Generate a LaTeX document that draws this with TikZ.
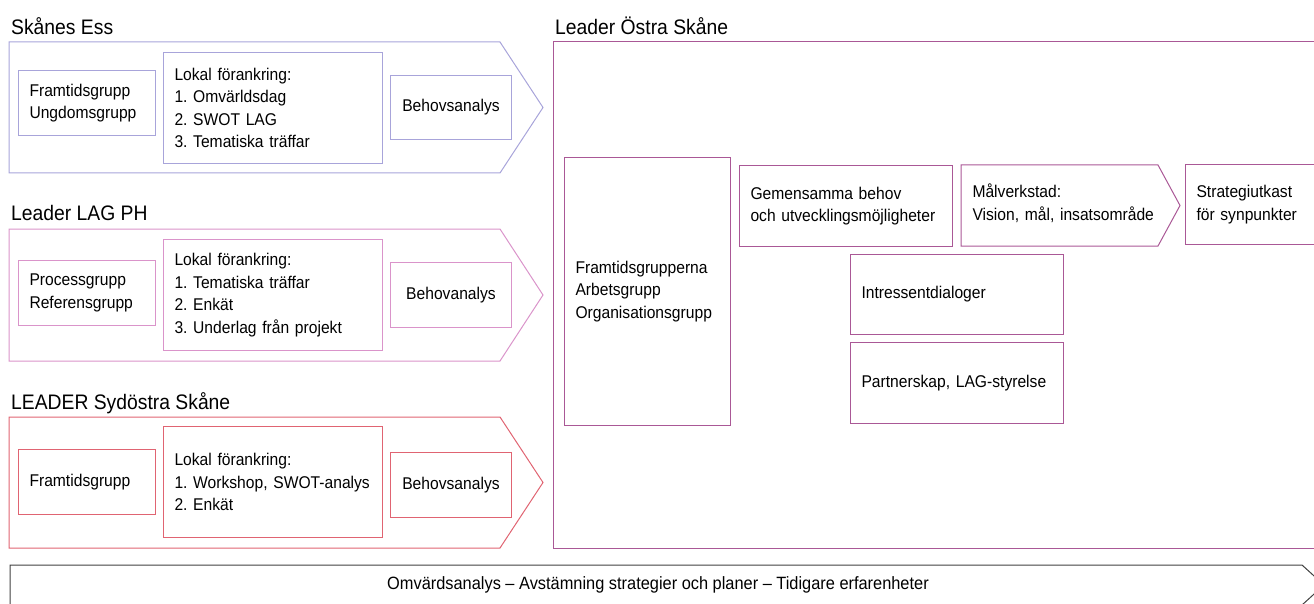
\documentclass[tikz,border=0pt]{standalone}
\usepackage{fontspec}
\setmainfont{Liberation Sans}[FakeStretch=0.92]
\frenchspacing
\definecolor{essblue}{RGB}{168,164,218}
\definecolor{phpink}{RGB}{218,148,202}
\definecolor{sydred}{RGB}{224,100,114}
\definecolor{ostrapurple}{RGB}{170,88,150}
\definecolor{bandgrey}{RGB}{64,64,64}
\newcommand{\bodyfont}{\fontsize{17}{22.5}\selectfont}
\newcommand{\bandfont}{\fontsize{17.8}{22}\selectfont}
\newcommand{\titlefont}{\fontsize{21}{25}\selectfont}
\tikzstyle{infobox}=[draw, line width=1pt, inner xsep=11pt, inner ysep=0pt, align=left, anchor=north west, font=\bodyfont]
\tikzstyle{centerbox}=[infobox, align=center, inner xsep=0pt]
\tikzstyle{rowtitle}=[anchor=base west, inner sep=0pt, font=\titlefont]
\tikzstyle{chevron}=[line width=1pt, line join=miter]
\def\drawchevron[#1](#2,#3)(#4,#5)(#6)% Syntax: [draw options] (left,top) (straight end,bottom) (tip x)
    { \draw[chevron,#1] (#2,#3) -- (#4,#3) -- (#6,{(#3+#5)/2}) -- (#4,#5) -- (#2,#5) -- cycle; }
\newcommand{\infonode}[7][]{% [options] name, x, y, width, height, text
\pgfmathsetmacro{\tw}{#5-22} % text width inside the box
\node[infobox,#1,text width=\tw pt,minimum height=#6pt] (#2) at (#3,#4) {#7};
}

\begin{document}
\begin{tikzpicture}[x=1pt,y=-1pt]
  \useasboundingbox (0,0) rectangle (1314,604);
  \clip (0,0) rectangle (1314,604);
  % Skånes Ess
  \node[rowtitle] (esstitle) at (11,35) {Skånes Ess};
  \drawchevron[essblue](9,42)(500,173)(543)
  \infonode[draw=essblue]{essgroups}{18}{70}{137}{65}{Framtidsgrupp\\Ungdomsgrupp}
  \infonode[draw=essblue]{essanchor}{163}{52}{219}{111}{Lokal förankring:\\1. Omvärldsdag\\2. SWOT LAG\\3. Tematiska träffar}
  \node[centerbox, draw=essblue, minimum width=121pt, minimum height=64pt] (essneeds) at (390,75) {Behovsanalys};
  % Leader LAG PH
  \node[rowtitle] (phtitle) at (11,221) {Leader LAG PH};
  \drawchevron[phpink](9,229)(500,361)(543)
  \infonode[draw=phpink]{phgroups}{18}{260}{137}{65}{Processgrupp\\Referensgrupp}
  \infonode[draw=phpink]{phanchor}{163}{239}{219}{111}{Lokal förankring:\\1. Tematiska träffar\\2. Enkät\\3. Underlag från projekt}
  \node[centerbox, draw=phpink, minimum width=121pt, minimum height=65pt] (phneeds) at (390,262) {Behovanalys};
  % LEADER Sydöstra Skåne
  \node[rowtitle] (sydtitle) at (11,409) {LEADER Sydöstra Skåne};
  \drawchevron[sydred](9,417)(500,548)(543)
  \infonode[draw=sydred]{sydgroups}{18}{449}{137}{65}{Framtidsgrupp}
  \infonode[draw=sydred]{sydanchor}{163}{426}{219}{111}{Lokal förankring:\\1. Workshop, SWOT-analys\\2. Enkät}
  \node[centerbox, draw=sydred, minimum width=121pt, minimum height=65pt] (sydneeds) at (390,452) {Behovsanalys};
  % Leader Östra Skåne
  \node[rowtitle] (ostratitle) at (555,35) {Leader Östra Skåne};
  \draw[chevron, ostrapurple] (553,42) rectangle (1330,548);
  \infonode[draw=ostrapurple]{ostragroups}{564}{157}{166}{268}{Framtidsgrupperna\\Arbetsgrupp\\Organisationsgrupp}
  \infonode[draw=ostrapurple]{ostraneeds}{739}{165}{213}{81}{Gemensamma behov\\och utvecklingsmöjligheter}
  \drawchevron[ostrapurple](961,165)(1158,246)(1180)
  \node[infobox, draw=none, anchor=west, text width=190pt] (ostraworkshop) at (961,203) {Målverkstad:\\Vision, mål, insatsområde};
  \infonode[draw=ostrapurple]{ostradraft}{1185}{164}{160}{80}{Strategiutkast\\för synpunkter}
  \infonode[draw=ostrapurple]{ostradialog}{850}{254}{213}{80}{Intressentdialoger}
  \infonode[draw=ostrapurple]{ostrapartners}{850}{342}{213}{81}{Partnerskap, LAG-styrelse}
  % bottom band
  \drawchevron[bandgrey](10,565)(1302,605)(1324)
  \node[font=\bandfont, inner sep=0pt] (bandtext) at (658,585) {Omvärdsanalys -- Avstämning strategier och planer -- Tidigare erfarenheter};
\end{tikzpicture}
\end{document}
